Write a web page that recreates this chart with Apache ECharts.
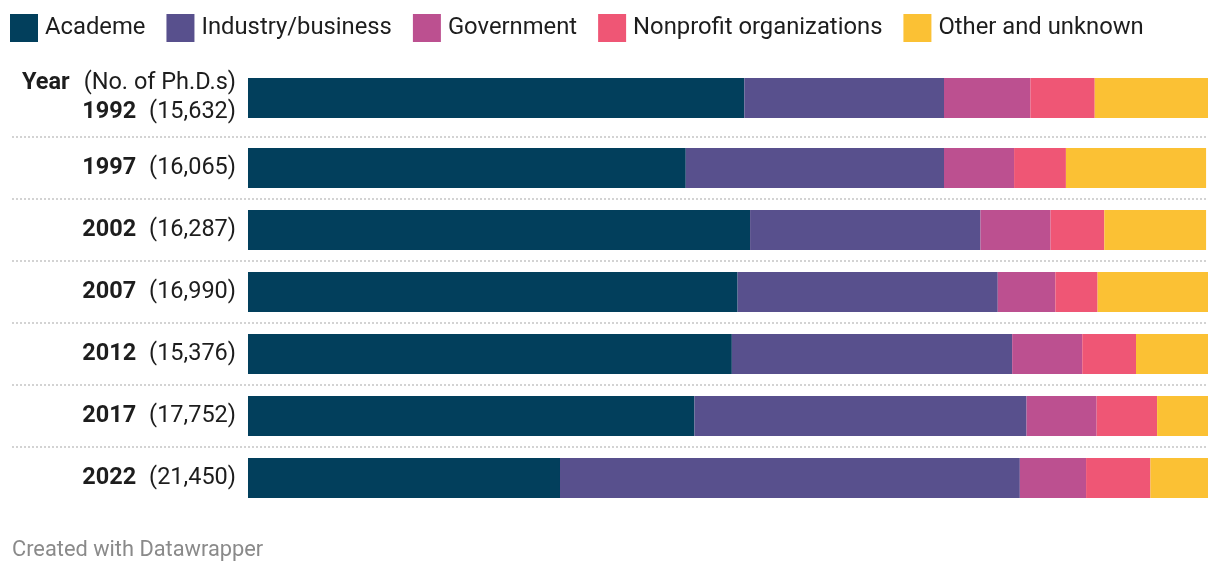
<!DOCTYPE html>
<html>
<head>
<meta charset="utf-8">
<script src="https://cdn.jsdelivr.net/npm/echarts@6/dist/echarts.min.js"></script>
<style>
html,body{margin:0;padding:0;background:#fff;}
#chart{width:1220px;height:574px;}
</style>
</head>
<body>
<div id="chart"></div>
<script>
var years = ['1992', '1997', '2002', '2007', '2012', '2017', '2022'];
var counts = ['15,632', '16,065', '16,287', '16,990', '15,376', '17,752', '21,450'];
var seriesNames = ['Academe', 'Industry/business', 'Government', 'Nonprofit organizations', 'Other and unknown'];
var academe    = [51.7, 45.6, 52.3, 51.0, 50.4, 46.5, 32.5];
var industry   = [20.8, 26.9, 24.0, 27.1, 29.2, 34.6, 47.9];
var government = [9.0, 7.3, 7.3, 6.0, 7.3, 7.3, 6.9];
var nonprofit  = [6.7, 5.4, 5.6, 4.4, 5.6, 6.3, 6.7];
var other      = [11.9, 14.6, 10.6, 11.5, 7.5, 5.4, 6.0];
var colors = ['#023f5c', '#58508d', '#bc5090', '#ef5675', '#fbc134'];

var values = [academe, industry, government, nonprofit, other];
var cats = years.map(function (y, i) { return y + '|' + counts[i]; });

var FS = 23.5;
var richStyle = {
  h: { fontFamily: 'Roboto', fontSize: FS, fontWeight: 'bold', color: '#1d1d1d', padding: [0, 14, 0, 0], lineHeight: 29 },
  b: { fontFamily: 'Roboto', fontSize: FS, fontWeight: 'bold', color: '#1d1d1d', padding: [0, 13, 0, 0], lineHeight: 29 },
  n: { fontFamily: 'Roboto', fontSize: FS, color: '#1d1d1d', lineHeight: 29 }
};
function fmt(withHeader) {
  return function (v) {
    var p = v.split('|');
    var s = '{b|' + p[0] + '}{n|(' + p[1] + ')}';
    if (withHeader) s = '{h|Year}{n|(No. of Ph.D.s)}\n' + s;
    return s;
  };
}

var xMin = -24.5833;
function xAxisDef(idx) {
  return { type: 'value', gridIndex: idx, min: xMin, max: 100, show: false };
}
function yAxisDef(idx, data, header, lines) {
  return {
    type: 'category', gridIndex: idx, data: data, inverse: true,
    axisLine: { show: false }, axisTick: { show: false },
    axisLabel: { margin: -224, align: 'right', formatter: fmt(header), rich: richStyle },
    splitLine: lines ? { show: true, showMinLine: true, showMaxLine: false, lineStyle: { color: '#d3d3d3', width: 2, type: [2, 2] } } : { show: false }
  };
}

var series = [];
[0, 1].forEach(function (g) {
  values.forEach(function (arr, k) {
    series.push({
      name: seriesNames[k], type: 'bar', stack: 's' + g,
      xAxisIndex: g, yAxisIndex: g, barWidth: 40,
      itemStyle: { color: colors[k] },
      emphasis: { disabled: true },
      data: g === 0 ? arr.slice(0, 1) : arr.slice(1)
    });
  });
});

var chart = echarts.init(document.getElementById('chart'), null, { renderer: 'canvas' });
chart.setOption({
  animation: false,
  color: colors,
  legend: {
    data: seriesNames, left: 10, top: 14, padding: 0,
    icon: 'rect', itemWidth: 28, itemHeight: 28, itemGap: 21,
    selectedMode: false,
    textStyle: { fontFamily: 'Roboto', fontSize: 23.8, color: '#1d1d1d', padding: [0, 0, 0, 2] }
  },
  title: {
    text: 'Created with Datawrapper', left: 12, top: 540, padding: 0,
    textStyle: { fontFamily: 'Roboto', fontSize: 21.8, fontWeight: 'normal', color: '#8a8a8a' }
  },
  grid: [
    { left: 12, right: 12, top: 59, height: 78 },
    { left: 12, right: 12, top: 137, height: 372 }
  ],
  xAxis: [xAxisDef(0), xAxisDef(1)],
  yAxis: [yAxisDef(0, cats.slice(0, 1), true, false), yAxisDef(1, cats.slice(1), false, true)],
  tooltip: { show: false },
  series: series
});
</script>
</body>
</html>
